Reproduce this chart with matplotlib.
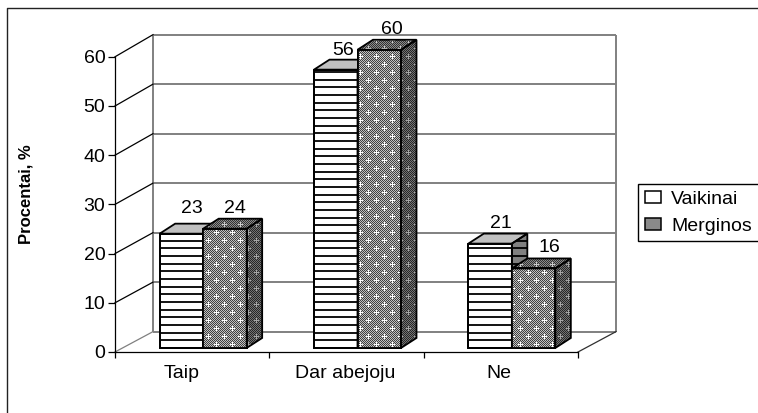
import numpy as np
import matplotlib
matplotlib.use("Agg")
import matplotlib.pyplot as plt
from matplotlib.patches import Patch, Polygon
from matplotlib.transforms import Affine2D, IdentityTransform

## Data
categories = ["Taip", "Dar abejoju", "Ne"]
vaikinai = [23, 56, 21]
merginos = [24, 60, 16]
y_ticks = [0, 10, 20, 30, 40, 50, 60]

W, H = 758, 413
plt.rcParams["font.family"] = ["Liberation Sans", "DejaVu Sans"]
FS = 14

fig = plt.figure(figsize=(W / 100, H / 100), dpi=100)
ax = fig.add_axes([115 / W, (H - 352) / H, 463 / W, 295.2 / H])
ax.set_xlim(-0.5, 2.5)
ax.set_ylim(0, 60)
for s in ["top", "right"]:
    ax.spines[s].set_visible(False)
for s in ["left", "bottom"]:
    ax.spines[s].set_linewidth(0.9)
ax.patch.set_visible(False)

## Axis ticks and labels
ax.set_yticks(y_ticks)
ax.tick_params(axis="y", length=5, width=0.9, labelsize=FS, pad=2)
ax.set_xticks([-0.5, 0.5, 1.5, 2.5])
ax.set_xticklabels([])
ax.tick_params(axis="x", which="major", length=4, width=0.9)
ax.set_xticks([-0.07, 0.99, 1.99], minor=True)
ax.set_xticklabels(categories, minor=True, fontsize=FS)
ax.tick_params(axis="x", which="minor", length=0, pad=9)
fig.text(26 / W, 1 - 194 / H, "Procentai, %", rotation=90, fontsize=12,
         fontweight="bold", ha="center", va="center")

## 3D walls
back_tf = ax.transData + Affine2D().scale(1, 1.006).translate(38, 20)
ax.hlines(y_ticks, -0.5, 2.5, colors="#808080", lw=1.4, transform=back_tf,
          clip_on=False, zorder=1)
ax.vlines([-0.5, 2.5], 0, 60, colors="#808080", lw=1.4, transform=back_tf,
          clip_on=False, zorder=1)
for v in y_ticks:
    a = ax.transData.transform((-0.5, v))
    b = back_tf.transform((-0.5, v))
    ax.plot([a[0], b[0]], [a[1], b[1]], color="#808080" if v == 0 else "black",
            lw=0.9, transform=IdentityTransform(), clip_on=False, zorder=1)
a = ax.transData.transform((2.5, 0))
b = back_tf.transform((2.5, 0))
ax.plot([a[0], b[0]], [a[1], b[1]], color="#303030", lw=0.9,
        transform=IdentityTransform(), clip_on=False, zorder=1)


## Dotted fill, whole figure size, clipped to each face
def dots(low, high, plus):
    yy, xx = np.mgrid[0:H, 0:W]
    tex = np.where((xx + yy) % 2 == 0, low, high).astype(float)
    for r in range(0, H, 8):
        shift = 0 if (r // 8) % 2 == 0 else 8
        for c in range(shift, W, 16):
            tex[r, max(c - 2, 0):c + 3] = plus
            tex[max(r - 2, 0):r + 3, c] = plus
    return tex


tex_dot = dots(0.25, 0.75, 1.0)
tex_dot_side = dots(0.15, 0.45, 0.65)
tex_dot_top = dots(0.2, 0.55, 0.8)


def paint(tex, clip, z):
    im = ax.imshow(tex, extent=(0, W, 0, H), origin="upper", cmap="gray", vmin=0, vmax=1,
                   interpolation="nearest", aspect="auto",
                   transform=IdentityTransform(), zorder=z)
    im.set_clip_box(fig.bbox)
    im.set_clip_path(clip)


def rule_lines(pts, x0, x1, y0, y1, z):
    # black stripes of the Vaikinai bars
    rows = np.arange(np.floor(y0), y1 + 8, 7.67)
    lines = ax.hlines(rows, x0, x1, colors="black", lw=1.3, transform=IdentityTransform(), zorder=z)
    lines.set_clip_box(fig.bbox)
    lines.set_clip_path(Polygon(pts, closed=True, transform=IdentityTransform()))


## Bars
bar_tf = ax.transData + Affine2D().scale(1, 1.0102).translate(11, 3.4)
x = np.arange(len(categories))
w = 43.5 / (463 / 3)
DX, DY = 15.5, 10


def draw_bars(xs, vals, label_off, side_color, top_color, z, dotted):
    ax.bar(xs, vals, w, facecolor="white", edgecolor="black", lw=1.3,
           transform=bar_tf, clip_on=False, zorder=z)
    for xi, v, off in zip(xs, vals, label_off):
        (x0, y0) = bar_tf.transform((xi - w / 2, 0))
        (x1, y1) = bar_tf.transform((xi + w / 2, v))
        front = [(x0, y0), (x1, y0), (x1, y1), (x0, y1)]
        side = [(x1, y0), (x1 + DX, y0 + DY), (x1 + DX, y1 + DY), (x1, y1)]
        top = [(x0, y1), (x0 + DX, y1 + DY), (x1 + DX, y1 + DY), (x1, y1)]
        for pts, col in ((side, side_color), (top, top_color)):
            ax.add_patch(Polygon(pts, closed=True, facecolor=col, edgecolor="none",
                                 transform=IdentityTransform(), clip_on=False, zorder=z + 0.1))
        if dotted:
            paint(tex_dot_side, Polygon(side, closed=True, transform=IdentityTransform()), z + 0.2)
            paint(tex_dot_top, Polygon(top, closed=True, transform=IdentityTransform()), z + 0.2)
            paint(tex_dot, Polygon(front, closed=True, transform=IdentityTransform()), z + 0.2)
        else:
            rule_lines(front, x0, x1, y0, y1, z + 0.2)
            rule_lines(side, x1, x1 + DX, y0, y1 + DY, z + 0.2)
        # outlines over the fills
        for pts in (side, top, front):
            ax.add_patch(Polygon(pts, closed=True, fill=False, edgecolor="black", lw=1.3,
                                 transform=IdentityTransform(), clip_on=False, zorder=z + 0.3))
        ax.annotate(str(v), (xi, v), xycoords=bar_tf, xytext=(off[0] * 0.72, off[1] * 0.72),
                    textcoords="offset points", ha="center", va="center",
                    fontsize=FS, zorder=10, annotation_clip=False)


draw_bars(x - w / 2, vaikinai, [(10, 25), (7, 19), (11, 20)], "#808080", "#c0c0c0", 3, False)
draw_bars(x + w / 2, merginos, [(10, 20), (13, 20), (16, 21)], "#505050", "#707070", 5, True)
ax.set_xlim(-0.5, 2.5)
ax.set_ylim(0, 60)

## Legend
handles = [Patch(facecolor="white", edgecolor="black", lw=1.1),
           Patch(facecolor="#8a8a8a", edgecolor="black", lw=1.1)]
fig.legend(handles, ["Vaikinai", "Merginos"], loc="upper left",
           bbox_to_anchor=(638 / W, 1 - 184 / H), bbox_transform=fig.transFigure,
           fontsize=FS, frameon=True, fancybox=False, edgecolor="black", framealpha=1,
           handlelength=0.85, handleheight=0.6, handletextpad=0.5, labelspacing=0.5,
           borderpad=0.35, borderaxespad=0)

## Outer frame, only left and top show in the picture
fig.add_artist(plt.Line2D([7 / W, 7 / W, 1], [0, 1 - 8 / H, 1 - 8 / H], color="#222222",
                          lw=1.0, transform=fig.transFigure))

fig.savefig("out.png", dpi=100)
